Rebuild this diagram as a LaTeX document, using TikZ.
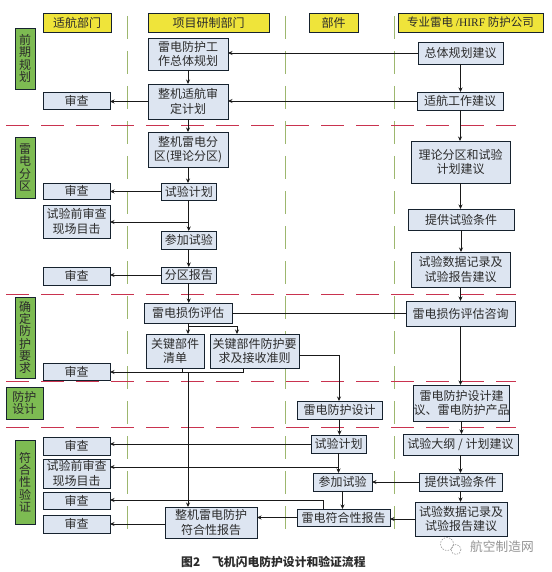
\documentclass[tikz,border=0pt]{standalone}
\usepackage{fontspec}
\setmainfont{Noto Sans CJK SC}
\newfontfamily\latinpart{Liberation Serif}
\usetikzlibrary{arrows.meta,calc}
\definecolor{hdryellow}{HTML}{EFE43A}
\definecolor{secgreen}{HTML}{7DBB52}
\definecolor{boxblue}{HTML}{DDE5F1}
\definecolor{inkdark}{HTML}{2B2B2B}
\definecolor{bordernavy}{HTML}{16222E}
\definecolor{reddash}{HTML}{C9334F}
\definecolor{greendash}{HTML}{9DB76E}
\tikzset{
  basebox/.style={draw=bordernavy,line width=0.9pt,inner sep=0pt,outer sep=0pt,align=center,text=inkdark,
    font=\fontsize{12}{14.7}\selectfont},
  hdrbox/.style={basebox,fill=hdryellow},
  bluebox/.style={basebox,fill=boxblue},
  secbox/.style={basebox,fill=secgreen,font=\fontsize{12}{12.3}\selectfont},
  arr/.style={draw=black!90,line width=0.8pt,-{Stealth[length=4.5pt,width=4pt]}},
  ln/.style={draw=black!90,line width=0.8pt},
  reddashed/.style={draw=reddash,line width=0.8pt,dash pattern=on 23pt off 12pt},
  greendashed/.style={draw=greendash,line width=0.8pt,dash pattern=on 23pt off 12pt},
}
\newcommand{\bx}[7]{%
  \pgfmathsetmacro\cxv{(#3+#5)/2}\pgfmathsetmacro\cyv{(#4+#6)/2}%
  \pgfmathsetmacro\wv{#5-#3}\pgfmathsetmacro\hv{#6-#4}%
  \node[#1,minimum width=\wv pt,minimum height=\hv pt] (#2) at (\cxv,\cyv) {#7};}
\begin{document}
\begin{tikzpicture}[x=1pt,y=-1pt]
\useasboundingbox (0,0) rectangle (551,572);
% swimlane and phase separators
\foreach \xx in {127,285,394.5} \draw[greendashed] (\xx,16) -- (\xx,534);
\foreach \yy in {125.5,294.3,381.3,427.3} \draw[reddashed] (6,\yy) -- (516,\yy);
% headers
\bx{hdrbox}{hA}{43}{13}{111}{32}{适航部门}
\bx{hdrbox}{hB}{148}{13}{269}{32}{项目研制部门}
\bx{hdrbox}{hC}{309}{13}{358}{32}{部件}
\bx{hdrbox}{hD}{398}{13}{543}{32}{\fontsize{11.5}{14}\selectfont 专业雷电 {\latinpart /HIRF} 防护公司}
% phases
\bx{secbox}{pA}{15}{28}{35}{89}{前\\期\\规\\划}
\bx{secbox}{pB}{15}{137}{35}{198}{雷\\电\\分\\区}
\bx{secbox}{pC}{15}{297}{35}{378}{确\\定\\防\\护\\要\\求}
\bx{secbox}{pD}{6}{387}{43}{419}{防护\\设计}
\bx{secbox}{pE}{15}{440}{35}{524}{符\\合\\性\\验\\证}
% airworthiness column
\bx{bluebox}{scA}{43}{92}{110}{109}{审查}
\bx{bluebox}{scB}{43}{183}{110}{199}{审查}
\bx{bluebox}{muA}{43}{205}{110}{238}{试验前审查\\现场目击}
\bx{bluebox}{scC}{43}{267}{110}{285}{审查}
\bx{bluebox}{scD}{43}{363}{110}{380}{审查}
\bx{bluebox}{scE}{43}{437}{110}{455}{审查}
\bx{bluebox}{muB}{43}{459}{110}{488}{试验前审查\\现场目击}
\bx{bluebox}{scF}{43}{492}{110}{509}{审查}
\bx{bluebox}{scG}{43}{515}{110}{533}{审查}
% project column
\bx{bluebox}{ghB}{148}{38}{228}{70}{雷电防护工\\作总体规划}
\bx{bluebox}{sdB}{148}{84}{228}{119}{整机适航审\\定计划}
\bx{bluebox}{fqB}{148}{132}{228}{167}{整机雷电分\\区(理论分区)}
\bx{bluebox}{jhA}{161.5}{183}{216}{200}{试验计划}
\bx{bluebox}{cjA}{161.5}{231}{216}{249}{参加试验}
\bx{bluebox}{bgA}{161.5}{267}{216}{283}{分区报告}
\bx{bluebox}{ssB}{144}{303}{232}{323}{雷电损伤评估}
\bx{bluebox}{qdB}{146}{334}{204}{368}{关键部件\\清单}
\bx{bluebox}{yqB}{210}{334}{299}{368}{关键部件防护要\\求及接收准则}
\bx{bluebox}{zjB}{165}{507}{257}{538}{整机雷电防护\\符合性报告}
% component column
\bx{bluebox}{sjC}{297}{401}{382}{419}{雷电防护设计}
\bx{bluebox}{jhC}{311}{435}{366}{453}{试验计划}
\bx{bluebox}{cjC}{313}{473}{372}{491}{参加试验}
\bx{bluebox}{fhC}{297}{509}{390}{526}{雷电符合性报告}
% company column
\bx{bluebox}{ghD}{418}{42}{503}{64}{总体规划建议}
\bx{bluebox}{gzD}{417}{92}{503}{110}{适航工作建议}
\bx{bluebox}{llD}{411}{141}{510}{183}{理论分区和试验\\计划建议}
\bx{bluebox}{tgD}{408}{209}{514}{230}{提供试验条件}
\bx{bluebox}{sjD}{411}{252}{510}{287}{试验数据记录及\\试验报告建议}
\bx{bluebox}{zxD}{406}{301}{515}{326}{雷电损伤评估咨询}
\bx{bluebox}{cpD}{414}{385}{509}{421}{雷电防护设计建\\议、雷电防护产品}
\bx{bluebox}{dgD}{403}{434}{518}{455}{试验大纲 / 计划建议}
\bx{bluebox}{tiD}{419}{473}{502}{491}{提供试验条件}
\bx{bluebox}{jlD}{415}{502}{507}{536}{试验数据记录及\\试验报告建议}
% helper points
\coordinate (brA) at (188.5,222);
\coordinate (brS) at (188,326);
\coordinate (brSR) at (237,326);
\coordinate (jL) at (182,372);
\coordinate (jM) at (188,372);
\coordinate (jR) at (243,372);
\coordinate (turnY) at (339,355);
\coordinate (brC) at (338.5,467);
\coordinate (turnF) at (323,500);
% connectors: company column
\draw[arr] (ghD.south) -- (ghD.south |- gzD.north);
\draw[arr] (gzD.south) -- (gzD.south |- llD.north);
\draw[arr] (llD.south) -- (llD.south |- tgD.north);
\draw[arr] (tgD.south) -- (tgD.south |- sjD.north);
\draw[arr] (sjD.south) -- (sjD.south |- zxD.north);
\draw[arr] (zxD.south) -- (zxD.south |- cpD.north);
\draw[arr] (cpD.south) -- (cpD.south |- dgD.north);
\draw[arr] (dgD.south) -- (dgD.south |- tiD.north);
\draw[arr] (tiD.south) -- (tiD.south |- jlD.north);
% connectors: company to others
\draw[arr] (ghD.west) -- (ghD.west -| ghB.east);
\draw[arr] (gzD.west) -- (gzD.west -| sdB.east);
\draw[ln] (zxD.west) -- (zxD.west -| ssB.east);
\draw[arr] (tiD.west) -- (tiD.west -| cjC.east);
\draw[arr] (jlD.west) -- (jlD.west -| fhC.east);
% connectors: project column
\draw[arr] (ghB.south) -- (sdB.north);
\draw[arr] (sdB.south) -- (fqB.north);
\draw[arr] (fqB.south) -- (fqB.south |- jhA.north);
\draw[arr] (jhA.south) -- (cjA.north);
\draw[arr] (cjA.south) -- (bgA.north);
\draw[arr] (bgA.south) -- (bgA.south |- ssB.north);
\draw[arr] (ssB.south) -- (ssB.south |- qdB.north);
\draw[arr] (brS) -- (brSR) -- (brSR |- yqB.north);
\draw[ln] (jL |- qdB.south) -- (jL);
\draw[arr] (jR |- yqB.south) -- (jR) -- (jR -| scD.east);
\draw[arr] (jM) -- (jM |- zjB.north);
\draw[arr] (yqB.east |- turnY) -- (turnY) -- (turnY |- sjC.north);
% connectors: reviews
\draw[arr] (sdB.west) -- (sdB.west -| scA.east);
\draw[arr] (jhA.west) -- (jhA.west -| scB.east);
\draw[arr] (brA) -- (brA -| muA.east);
\draw[arr] (bgA.west) -- (bgA.west -| scC.east);
\draw[arr] (jhC.west) -- (jhC.west -| scE.east);
\draw[arr] (brC) -- (brC -| muB.east);
\draw[arr] (turnF |- fhC.north) -- (turnF) -- (turnF -| scF.east);
\draw[arr] (zjB.west |- scG.east) -- (scG.east);
% connectors: component column
\draw[arr] (sjC.south) -- (sjC.south |- jhC.north);
\draw[arr] (jhC.south) -- (jhC.south |- cjC.north);
\draw[arr] (cjC.south) -- (cjC.south |- fhC.north);
\draw[arr] (fhC.west) -- (fhC.west -| zjB.east);
% caption
\node[anchor=west,inner sep=0pt,text=inkdark,font=\fontsize{11.8}{14}\selectfont\bfseries] (cap) at (181,561.5) {图2\hspace{12pt}飞机闪电防护设计和验证流程};
% watermark
\draw[gray!80,line width=0.6pt,dash pattern=on 1.5pt off 1.2pt] (447,544) circle (6.5);
\draw[gray!80,line width=0.6pt,dash pattern=on 1.5pt off 1.2pt] (456,549.5) circle (5);
\node[anchor=west,inner sep=0pt,text=gray!85,font=\fontsize{12.7}{14}\selectfont] (wm) at (470,547) {航空制造网};
\end{tikzpicture}
\end{document}
